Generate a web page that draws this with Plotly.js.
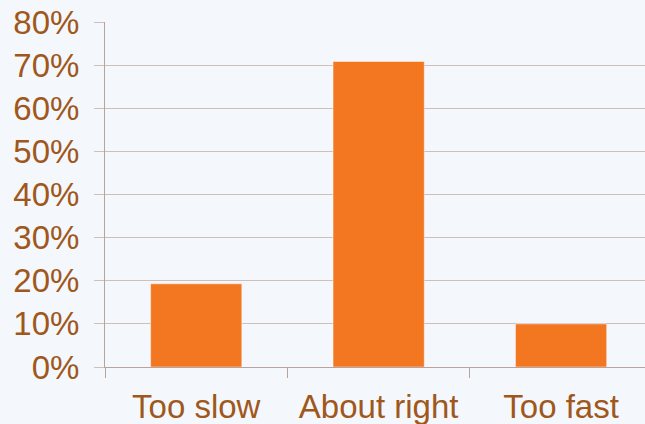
<!DOCTYPE html>
<html>
<head>
<meta charset="utf-8">
<script src="https://cdn.plot.ly/plotly-3.0.1.min.js"></script>
<style>
html,body{margin:0;padding:0;background:#F4F8FC;}
#chart{width:645px;height:424px;}
</style>
</head>
<body>
<div id="chart"></div>
<script>
const categories = ["Too slow", "About right", "Too fast"];
const shares = [0.193, 0.709, 0.10];
const yTickValues = [0, 0.1, 0.2, 0.3, 0.4, 0.5, 0.6, 0.7, 0.8];
const yTickLabels = ["0%", "10%", "20%", "30%", "40%", "50%", "60%", "70%", "80%"];

const labelColor = "#A0571B";
const axisColor = "#BBA39D";
const gridColor = "#D0BEB8";

Plotly.newPlot("chart", [{
  type: "bar",
  x: categories,
  y: shares,
  marker: {color: "#F37720", line: {color: "rgba(255,255,255,0.45)", width: 1}},
  hoverinfo: "none"
}], {
  width: 645,
  height: 424,
  margin: {l: 105, r: 0, t: 22, b: 57},
  paper_bgcolor: "#F4F8FC",
  plot_bgcolor: "#F4F8FC",
  bargap: 0.5,
  showlegend: false,
  font: {family: "Liberation Sans, Arial, sans-serif", color: labelColor, size: 33},
  xaxis: {
    type: "category",
    range: [-0.5, 2.46],
    showline: true,
    linecolor: axisColor,
    linewidth: 1,
    ticks: "outside",
    tickson: "boundaries",
    ticklen: 10,
    tickcolor: axisColor,
    showgrid: false,
    tickfont: {size: 33, color: labelColor},
    ticklabelstandoff: 10
  },
  yaxis: {
    range: [0, 0.8005],
    tickvals: yTickValues,
    ticktext: yTickLabels,
    showline: true,
    linecolor: axisColor,
    linewidth: 1,
    ticks: "outside",
    ticklen: 10,
    tickcolor: gridColor,
    showgrid: true,
    gridcolor: gridColor,
    gridwidth: 1,
    zeroline: false,
    tickfont: {size: 33, color: labelColor},
    ticklabelstandoff: 8
  }
}, {staticPlot: true});
</script>
</body>
</html>
